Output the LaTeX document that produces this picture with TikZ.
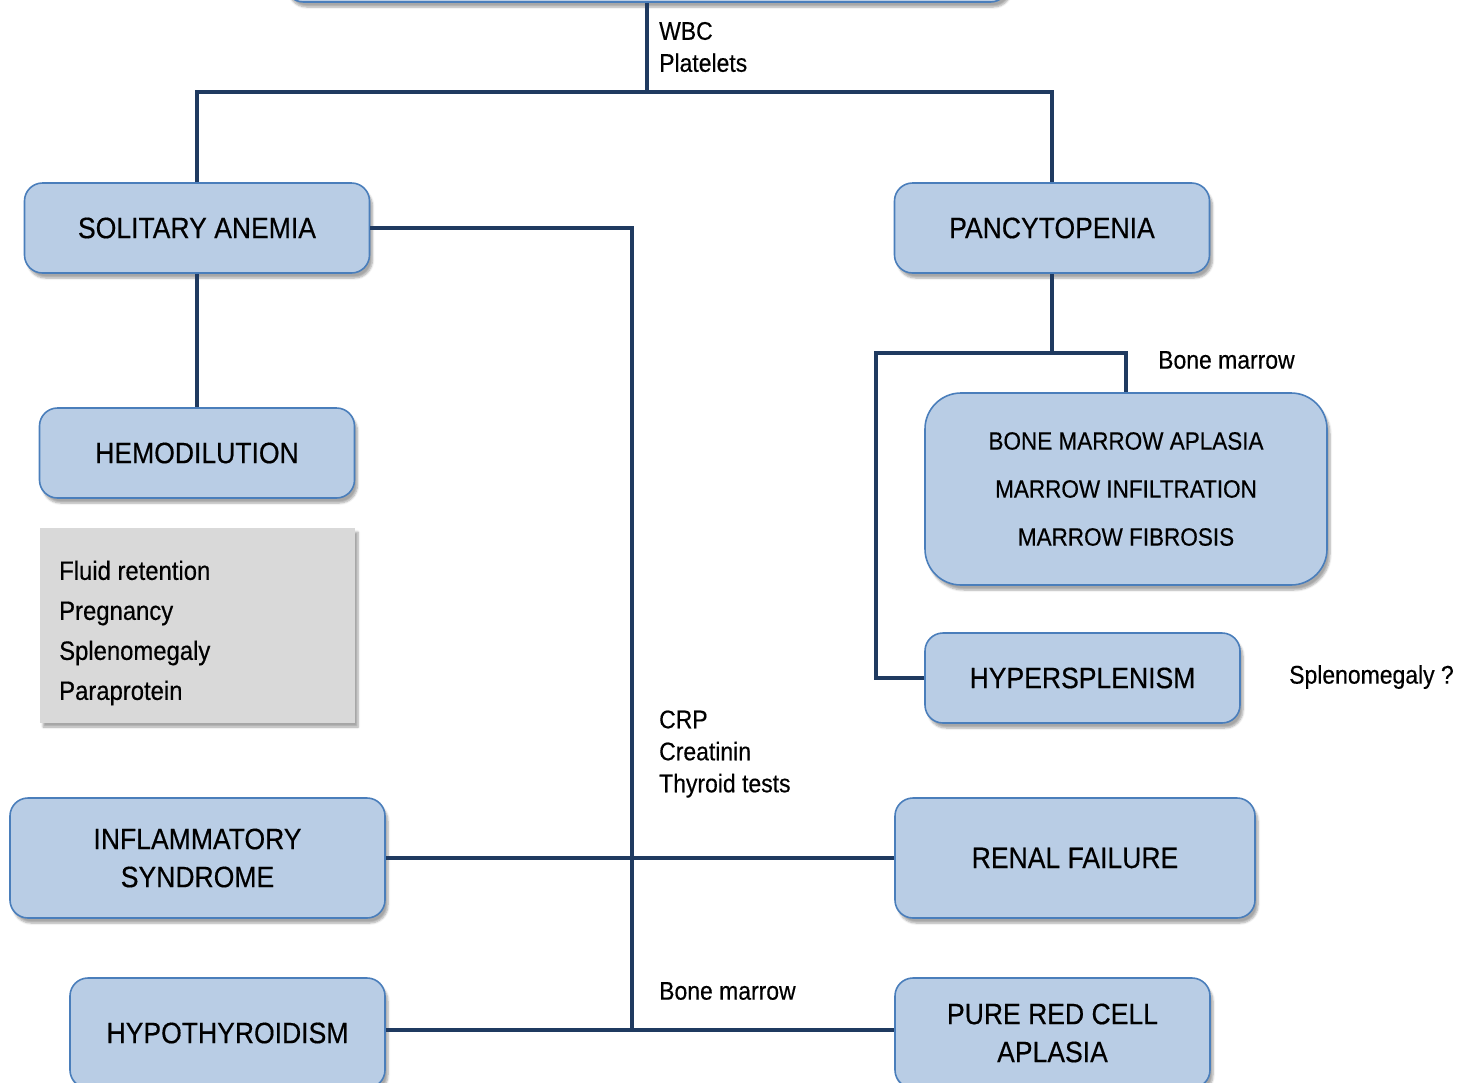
\documentclass[tikz,border=0pt]{standalone}
\usepackage{fontspec}
\setmainfont{Liberation Sans}[FakeStretch=0.9,FakeBold=0.4]
\usetikzlibrary{shadows.blur}

\definecolor{boxfill}{HTML}{B9CDE5}
\definecolor{boxline}{HTML}{4A7EBB}
\definecolor{linkcol}{HTML}{1F3A60}
\definecolor{notefill}{HTML}{D9D9D9}

\tikzset{
  cbox/.style={draw=boxline,line width=1.6pt,fill=boxfill,rounded corners=18pt,
    align=center,inner sep=0pt,font=\fontsize{29.5}{38}\selectfont,
    blur shadow={shadow xshift=3pt,shadow yshift=-5pt,shadow blur steps=6,shadow opacity=35}},
  link/.style={draw=linkcol,line width=4pt},
  lab/.style={anchor=west,align=left,inner sep=0pt,font=\fontsize{25.5}{32}\selectfont}
}

\begin{document}
\begin{tikzpicture}[x=1pt,y=-1pt]
\useasboundingbox (0,0) rectangle (1466,1082);

% boxes
\node[cbox,minimum width=723,minimum height=80] (top) at (647,-38) {};
\node[cbox,minimum width=345,minimum height=90] (sol) at (197,228) {SOLITARY ANEMIA};
\node[cbox,minimum width=315,minimum height=90] (pan) at (1052,228) {PANCYTOPENIA};
\node[cbox,minimum width=315,minimum height=90] (hemo) at (197,453) {HEMODILUTION};
\node[cbox,rounded corners=36pt,minimum width=402,minimum height=192,
  font=\fontsize{25}{48}\selectfont] (marrow) at (1126,489)
  {BONE MARROW APLASIA\\MARROW INFILTRATION\\MARROW FIBROSIS};
\node[cbox,minimum width=315,minimum height=90] (hyper) at (1082.5,678) {HYPERSPLENISM};
\node[cbox,minimum width=375,minimum height=120] (infl) at (197.5,858) {INFLAMMATORY\\SYNDROME};
\node[cbox,minimum width=360,minimum height=120] (renal) at (1075,858) {RENAL FAILURE};
\node[cbox,minimum width=315,minimum height=110] (hypo) at (227.5,1033) {HYPOTHYROIDISM};
\node[cbox,minimum width=315,minimum height=110] (pure) at (1052.5,1033) {PURE RED CELL\\APLASIA};

% grey note
\node[fill=notefill,minimum width=315,minimum height=195,inner sep=0pt,
  blur shadow={shadow xshift=3pt,shadow yshift=-4pt,shadow blur steps=6,shadow opacity=35}]
  (note) at (197.5,625.5) {};
\node[lab,font=\fontsize{26.5}{40}\selectfont] (notetxt) at (59,633)
  {Fluid retention\\Pregnancy\\Splenomegaly\\Paraprotein};

% connectors
\coordinate (fork) at (647,93);
\coordinate (trunk) at (632,1030);
\coordinate (bm) at (1052,353);
\draw[link] (top.south) -- (fork);
\draw[link] (sol.north) -- ++(0,-90) -| (pan.north);
\draw[link] (sol.south) -- (hemo.north);
\draw[link] (sol.east) -| (trunk);
\draw[link] (infl.east) -- (renal.west);
\draw[link] (hypo.east |- trunk) -- (pure.west |- trunk);
\draw[link] (pan.south) -- (bm);
\draw[link] (hyper.west) -- ++(-48,0) |- (bm) -| (marrow.north);

% labels
\node[lab] (wbc) at (659,47) {WBC\\Platelets};
\node[lab] (bmlab) at (1158,360) {Bone marrow};
\node[lab] (spl) at (1289,677) {Splenomegaly ?};
\node[lab] (tests) at (659,754) {CRP\\Creatinin\\Thyroid tests};
\node[lab] (bmlab2) at (659,991) {Bone marrow};
\end{tikzpicture}
\end{document}
